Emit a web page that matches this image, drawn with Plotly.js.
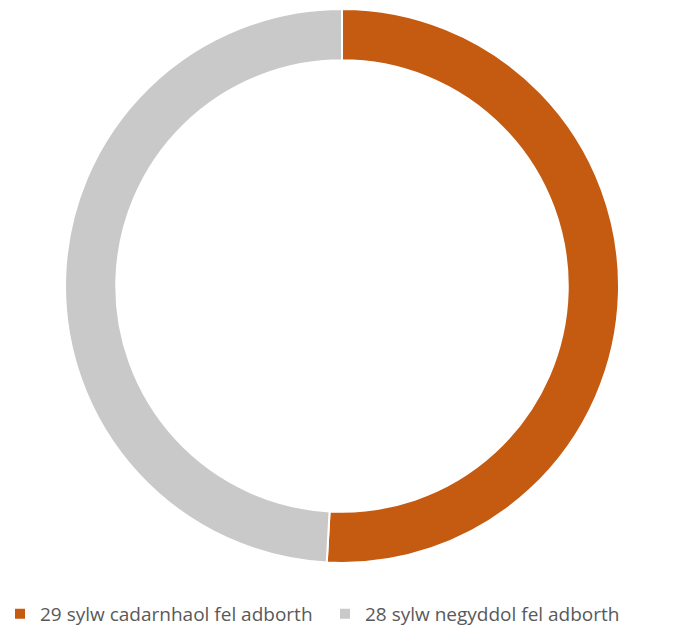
<!DOCTYPE html>
<html>
<head>
<meta charset="utf-8">
<script src="https://cdn.plot.ly/plotly-3.0.1.min.js"></script>
<style>html,body{margin:0;padding:0;background:#fff;}#chart{width:683px;height:633px;}</style>
</head>
<body>
<div id="chart"></div>
<script>
const labels = ["29 sylw cadarnhaol fel adborth", "28 sylw negyddol fel adborth"];
const values = [29, 28];
const colors = ["#C55A11", "#C9C9C9"];

const data = [{
  type: "pie",
  labels: labels,
  values: values,
  hole: 0.815,
  sort: false,
  direction: "clockwise",
  rotation: 0,
  textinfo: "none",
  hoverinfo: "label+value",
  domain: { x: [0.0952, 0.9063], y: [0, 1] },
  marker: { colors: colors, line: { color: "#ffffff", width: 2 } }
}];

const layout = {
  width: 683,
  height: 633,
  margin: { l: 0, r: 0, t: 9, b: 70 },
  paper_bgcolor: "#ffffff",
  plot_bgcolor: "#ffffff",
  showlegend: true,
  legend: {
    orientation: "h",
    x: 0,
    xanchor: "left",
    y: -0.092,
    yanchor: "middle",
    entrywidth: 280,
    entrywidthmode: "pixels",
    font: { family: "Open Sans, sans-serif", size: 19, color: "#595959" },
    itemwidth: 30
  }
};

Plotly.newPlot("chart", data, layout, { displayModeBar: false, staticPlot: true });
</script>
</body>
</html>
